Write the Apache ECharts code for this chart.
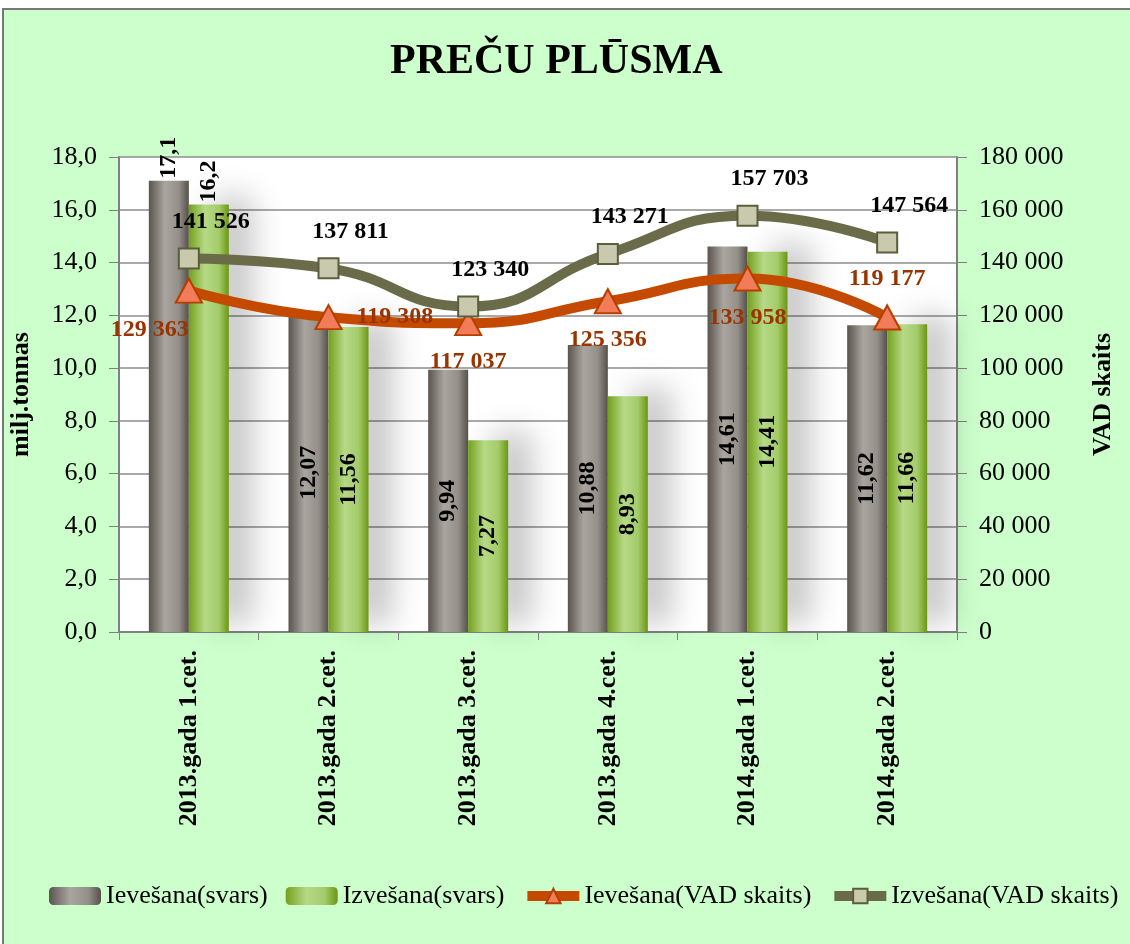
<!DOCTYPE html>
<html>
<head>
<meta charset="utf-8">
<script src="https://cdn.jsdelivr.net/npm/echarts@6/dist/echarts.min.js"></script>
<style>
  html, body { margin: 0; padding: 0; background: #fff; }
  #main { width: 1130px; height: 944px; }
</style>
</head>
<body>
<div id="main"></div>
<script>
// dati
var categories = ["2013.gada 1.cet.", "2013.gada 2.cet.", "2013.gada 3.cet.", "2013.gada 4.cet.", "2014.gada 1.cet.", "2014.gada 2.cet."];
var ievesanaSvars = [17.1, 12.07, 9.94, 10.88, 14.61, 11.62];
var izvesanaSvars = [16.2, 11.56, 7.27, 8.93, 14.41, 11.66];
var ievesanaVad = [129363, 119308, 117037, 125356, 133958, 119177];
var izvesanaVad = [141526, 137811, 123340, 143271, 157703, 147564];

var serif = "Liberation Serif";
var ievLabelPos = ["bottom", "right", "bottom", "bottom", "bottom", "top"];

function fmtDec(v, d) {
  return Number(v).toFixed(d).replace(".", ",");
}
function fmtThousands(v) {
  return String(v).replace(/\B(?=(\d{3})+(?!\d))/g, " ");
}
function barData(values) {
  return values.map(function (v, i) {
    if (i === 0) {
      return { value: v, label: { position: "top", align: "left", verticalAlign: "middle", distance: 2 } };
    }
    return v;
  });
}

var grayGrad = new echarts.graphic.LinearGradient(0, 0, 1, 0, [
  { offset: 0, color: "#59554e" },
  { offset: 0.4, color: "#aaa59e" },
  { offset: 0.75, color: "#948f88" },
  { offset: 1, color: "#55514a" }
]);
var greenGrad = new echarts.graphic.LinearGradient(0, 0, 1, 0, [
  { offset: 0, color: "#73a01c" },
  { offset: 0.4, color: "#b6d986" },
  { offset: 0.75, color: "#a3cc6a" },
  { offset: 1, color: "#6c9612" }
]);

var chart = echarts.init(document.getElementById("main"));
var option = {
  backgroundColor: "#fff",
  textStyle: { fontFamily: serif },
  graphic: [
    {
      type: "rect",
      z: -10,
      shape: { x: 3, y: 9, width: 1140, height: 950 },
      style: { fill: "#ccffcc", stroke: "#777", lineWidth: 2 }
    }
  ],
  title: {
    text: "PREČU PLŪSMA",
    left: 385,
    top: 36,
    textStyle: { fontFamily: serif, fontSize: 42, fontWeight: "bold", color: "#000" }
  },
  legend: {
    top: 878,
    left: 44,
    itemGap: 18,
    itemWidth: 52,
    itemHeight: 18,
    textStyle: { fontFamily: serif, fontSize: 26, color: "#000" },
    data: [
      { name: "Ievešana(svars)" },
      { name: "Izvešana(svars)" },
      { name: "Ievešana(VAD skaits)", lineStyle: { width: 10 } },
      { name: "Izvešana(VAD skaits)", lineStyle: { width: 10 } }
    ]
  },
  grid: {
    left: 117,
    right: 173,
    top: 157,
    bottom: 312,
    show: true,
    backgroundColor: "#fff",
    borderWidth: 0
  },
  xAxis: {
    type: "category",
    data: categories,
    axisLine: { lineStyle: { color: "#808080", width: 2 } },
    axisTick: { show: true, alignWithLabel: false, length: 8, lineStyle: { color: "#808080" } },
    axisLabel: {
      rotate: 90,
      interval: 0,
      margin: 18,
      fontFamily: serif,
      fontSize: 26,
      fontWeight: "bold",
      color: "#000"
    }
  },
  yAxis: [
    {
      type: "value",
      min: 0,
      max: 18,
      interval: 2,
      name: "milj.tonnas",
      nameLocation: "middle",
      nameGap: 85,
      nameTextStyle: { fontFamily: serif, fontSize: 26, fontWeight: "bold", color: "#000" },
      axisLine: { show: true, lineStyle: { color: "#808080", width: 2 } },
      axisTick: { show: true, length: 10, lineStyle: { color: "#808080" } },
      splitLine: { lineStyle: { color: "#8c8c8c", width: 1.5 } },
      axisLabel: {
        margin: 22,
        fontFamily: serif,
        fontSize: 26,
        color: "#000",
        formatter: function (v) { return fmtDec(v, 1); }
      }
    },
    {
      type: "value",
      min: 0,
      max: 180000,
      interval: 20000,
      name: "VAD skaits",
      nameLocation: "middle",
      nameGap: 133,
      nameTextStyle: { fontFamily: serif, fontSize: 26, fontWeight: "bold", color: "#000" },
      axisLine: { show: true, lineStyle: { color: "#808080", width: 2 } },
      axisTick: { show: true, length: 10, lineStyle: { color: "#808080" } },
      splitLine: { show: false },
      axisLabel: {
        margin: 22,
        fontFamily: serif,
        fontSize: 26,
        color: "#000",
        formatter: function (v) { return fmtThousands(v); }
      }
    }
  ],
  series: [
    {
      name: "Ievešana(svars)",
      type: "bar",
      yAxisIndex: 0,
      barWidth: 40,
      barGap: "0%",
      data: barData(ievesanaSvars),
      itemStyle: { color: grayGrad },
      label: {
        show: true,
        position: "inside",
        rotate: 90,
        fontFamily: serif,
        fontSize: 24,
        fontWeight: "bold",
        color: "#000",
        formatter: function (p) { return p.dataIndex === 0 ? fmtDec(p.value, 1) : fmtDec(p.value, 2); }
      }
    },
    {
      name: "Izvešana(svars)",
      type: "bar",
      yAxisIndex: 0,
      barWidth: 40,
      barGap: "0%",
      data: barData(izvesanaSvars),
      itemStyle: {
        color: greenGrad,
        shadowBlur: 30,
        shadowOffsetX: 24,
        shadowOffsetY: -8,
        shadowColor: "rgba(0,0,0,0.22)"
      },
      label: {
        show: true,
        position: "inside",
        rotate: 90,
        fontFamily: serif,
        fontSize: 24,
        fontWeight: "bold",
        color: "#000",
        formatter: function (p) { return p.dataIndex === 0 ? fmtDec(p.value, 1) : fmtDec(p.value, 2); }
      }
    },
    {
      name: "Ievešana(VAD skaits)",
      type: "line",
      yAxisIndex: 1,
      smooth: true,
      z: 4,
      data: ievesanaVad.map(function (v, i) {
        var lbl = { position: ievLabelPos[i] };
        if (i === 0) lbl.align = "right";
        return { value: v, label: lbl };
      }),
      lineStyle: { color: "#c44a00", width: 10 },
      symbol: "triangle",
      symbolSize: [26, 24],
      itemStyle: { color: "#f27c5a", borderColor: "#b63f00", borderWidth: 2 },
      label: {
        show: true,
        distance: 14,
        fontFamily: serif,
        fontSize: 24,
        fontWeight: "bold",
        color: "#993300",
        formatter: function (p) { return fmtThousands(p.value); }
      }
    },
    {
      name: "Izvešana(VAD skaits)",
      type: "line",
      yAxisIndex: 1,
      smooth: true,
      z: 5,
      data: izvesanaVad,
      lineStyle: { color: "#6a6b48", width: 10 },
      symbol: "rect",
      symbolSize: 20,
      itemStyle: { color: "#c9c9ad", borderColor: "#5c5d3c", borderWidth: 2 },
      label: {
        show: true,
        position: "top",
        distance: 14,
        offset: [22, 0],
        fontFamily: serif,
        fontSize: 24,
        fontWeight: "bold",
        color: "#000",
        formatter: function (p) { return fmtThousands(p.value); }
      }
    }
  ]
};
chart.setOption(option);
</script>
</body>
</html>
